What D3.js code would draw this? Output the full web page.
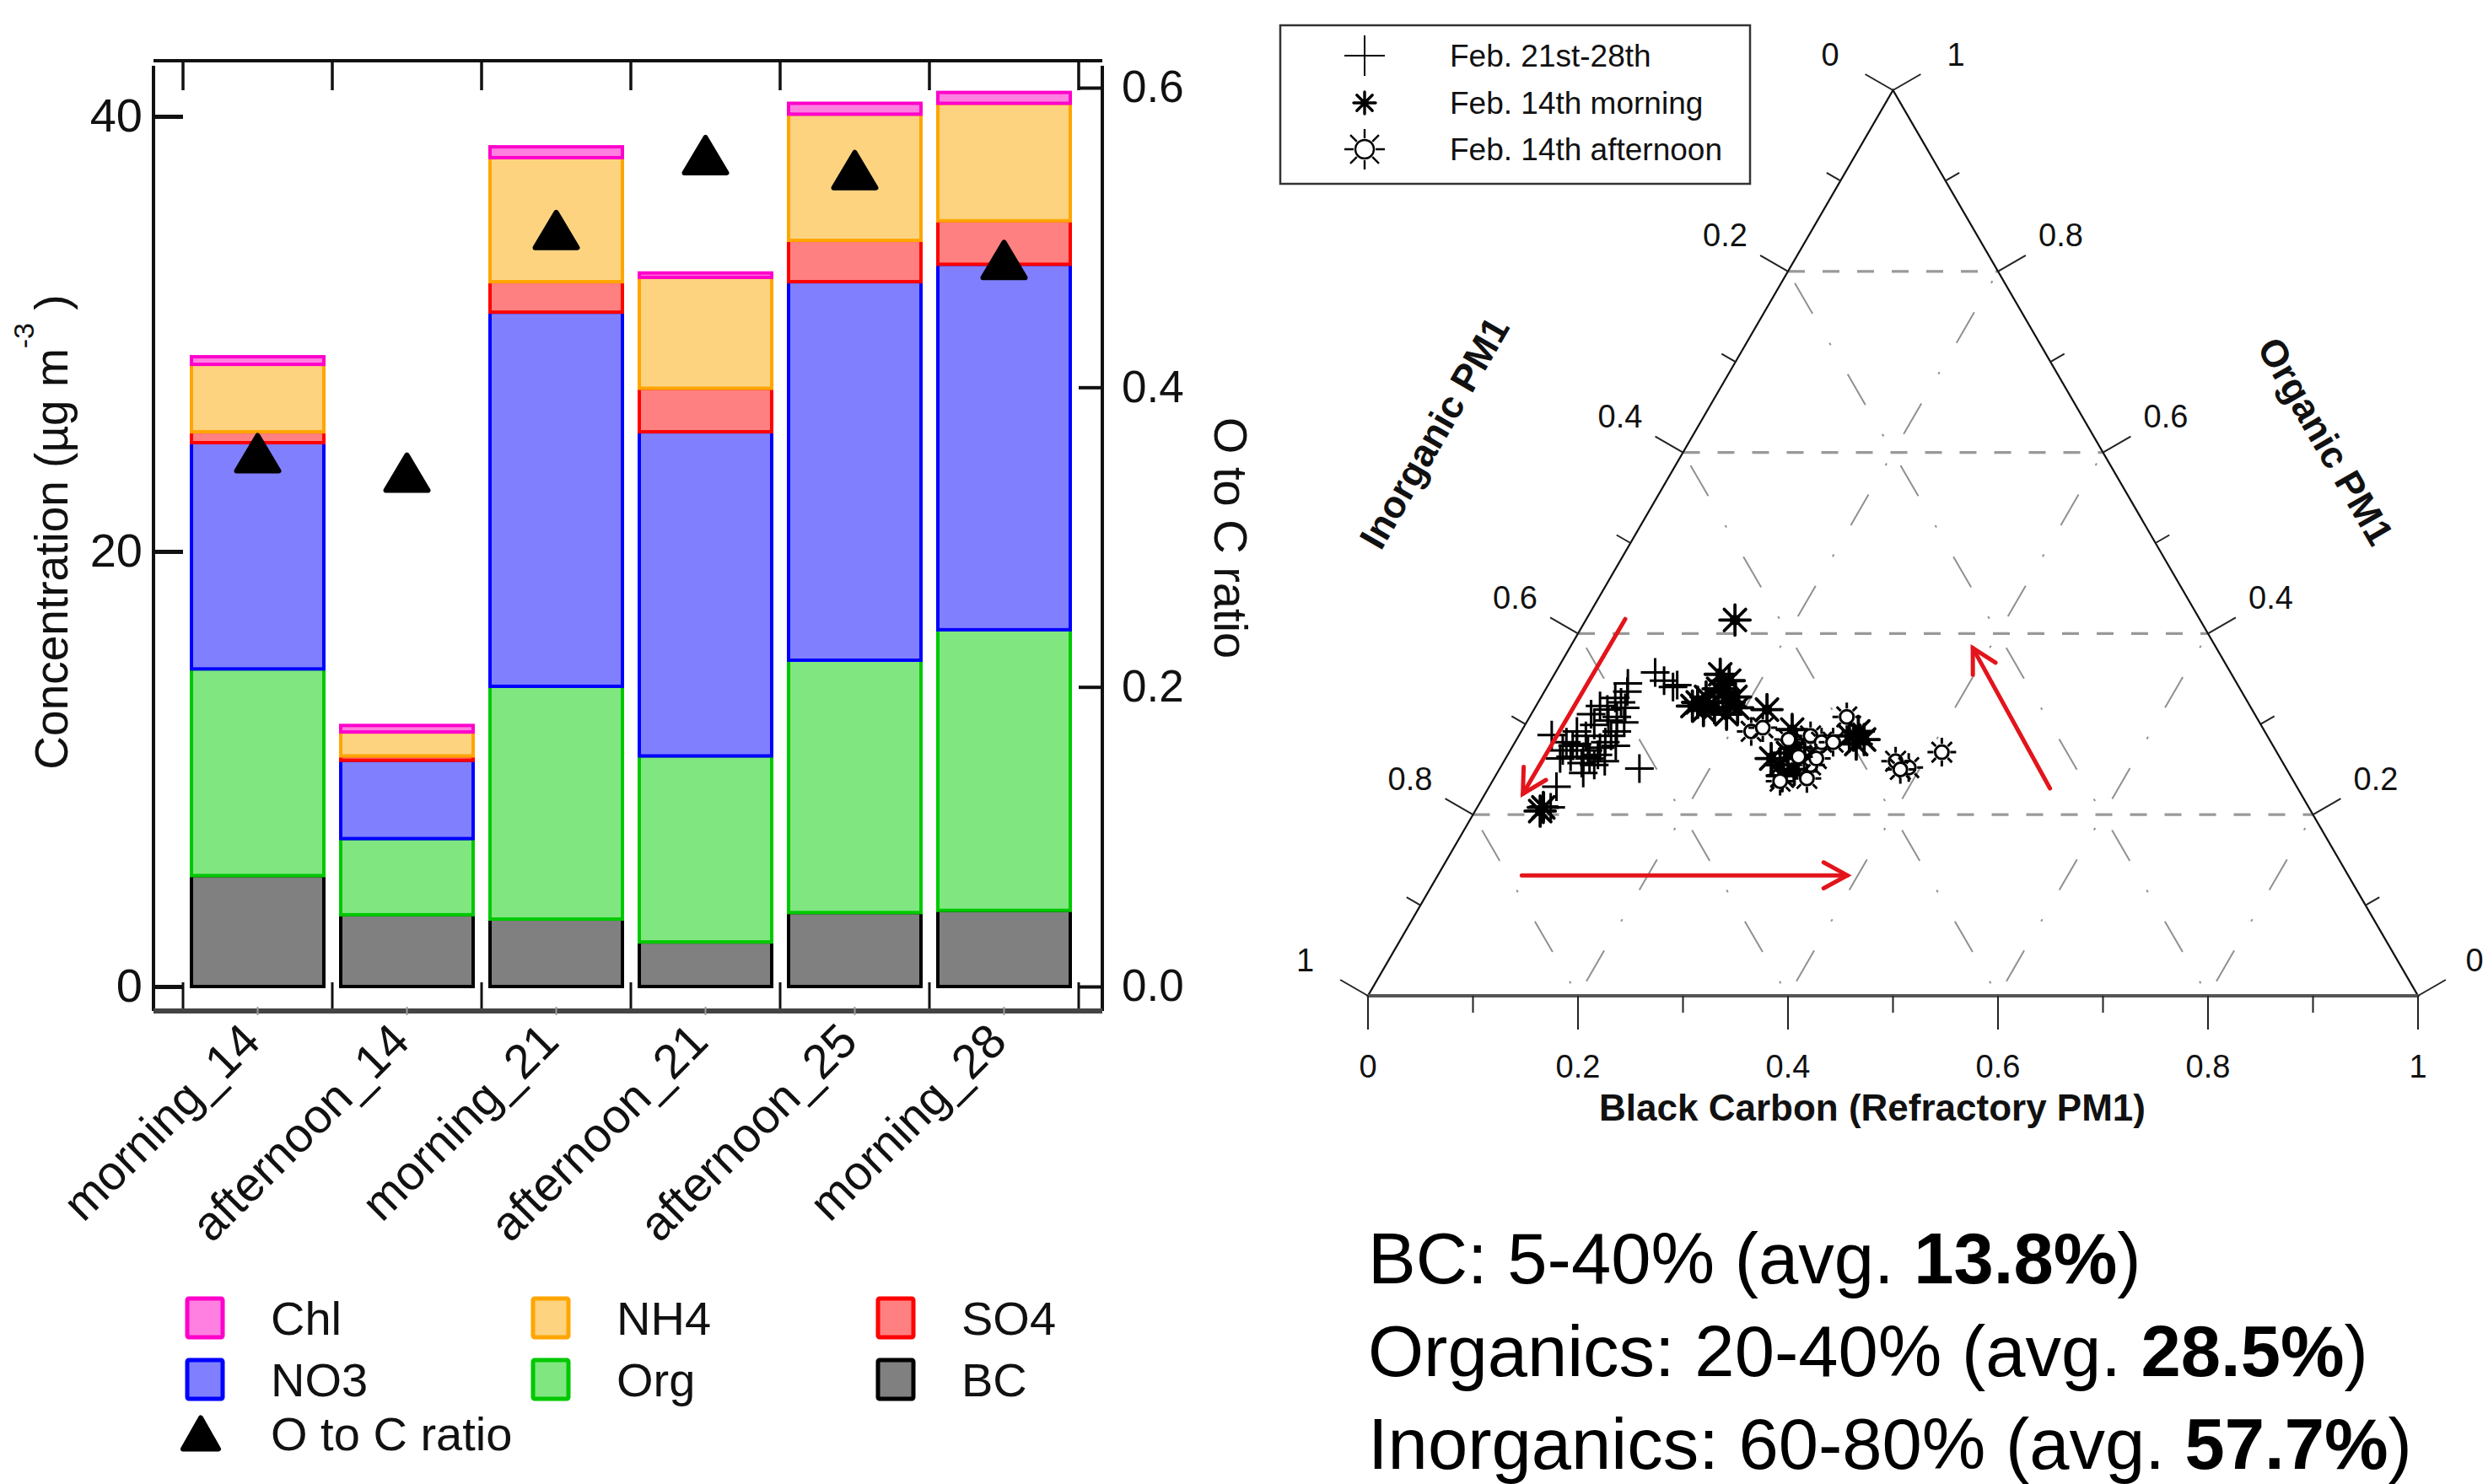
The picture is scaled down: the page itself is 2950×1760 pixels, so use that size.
<!DOCTYPE html>
<html><head><meta charset="utf-8">
<script src="https://cdn.jsdelivr.net/npm/d3@7"></script>
<style>body{margin:0;background:#fff}svg{display:block}text{font-family:"Liberation Sans",Arial,Helvetica,sans-serif}</style>
</head><body><svg id="c" width="2950" height="1760"></svg>
<script>
// ---------- DATA: left stacked bar chart ----------
const categories = ["morning_14","afternoon_14","morning_21","afternoon_21","afternoon_25","morning_28"];
const species = ["BC","Org","NO3","SO4","NH4","Chl"];
const bcValues  = [5.1, 3.3, 3.1, 2.05, 3.4, 3.5];
const orgValues = [9.5, 3.5, 10.7, 8.55, 11.6, 12.9];
const no3Values = [10.4, 3.6, 17.2, 14.9, 17.4, 16.8];
const so4Values = [0.5, 0.2, 1.4, 2.0, 1.9, 2.0];
const nh4Values = [3.1, 1.1, 5.7, 5.1, 5.8, 5.4];
const chlValues = [0.35, 0.3, 0.5, 0.2, 0.5, 0.5];
const ocRatio   = [0.356, 0.343, 0.505, 0.555, 0.545, 0.485];
const leftTicks  = [0, 20, 40];
const rightTicks = [0.0, 0.2, 0.4, 0.6];
const legendOrder = ["Chl","NH4","SO4","NO3","Org","BC"];

// ---------- DATA: ternary (fractions of BC and Organic; Inorganic = 1 - BC - Org) ----------
const crossBC  = [0.095,0.108,0.120,0.123,0.075,0.079,0.079,0.086,0.061,0.057,0.083,0.093,0.031,0.049,0.060,0.073,0.074,0.084,0.086,0.088,0.088,0.082,0.096,0.091,0.061,0.050,0.133,0.064,0.063,0.070,0.053,0.064,0.066,0.077,0.057,0.080,0.086,0.075,0.052,0.098,0.071,0.070];
const crossOrg = [0.357,0.348,0.341,0.343,0.345,0.336,0.324,0.318,0.320,0.311,0.308,0.302,0.288,0.280,0.278,0.264,0.271,0.274,0.280,0.287,0.255,0.246,0.259,0.292,0.264,0.271,0.251,0.231,0.209,0.208,0.292,0.287,0.299,0.304,0.276,0.262,0.266,0.257,0.262,0.276,0.329,0.316];
const starBC  = [0.142,0.152,0.157,0.171,0.170,0.170,0.182,0.185,0.186,0.162,0.149,0.164,0.193,0.158,0.222,0.257,0.253,0.265,0.266,0.273,0.271,0.285,0.281,0.315,0.321,0.331,0.326,0.063,0.062];
const starOrg = [0.415,0.324,0.330,0.318,0.336,0.348,0.324,0.330,0.311,0.315,0.320,0.339,0.318,0.355,0.316,0.294,0.262,0.255,0.268,0.243,0.274,0.262,0.250,0.287,0.292,0.283,0.278,0.208,0.204];
const sunBC  = [0.219,0.228,0.278,0.292,0.303,0.302,0.294,0.296,0.298,0.274,0.373,0.389,0.382,0.412,0.259,0.278];
const sunOrg = [0.292,0.296,0.287,0.280,0.280,0.308,0.255,0.262,0.240,0.237,0.259,0.252,0.250,0.269,0.283,0.264];
const ternTicks = [0, 0.2, 0.4, 0.6, 0.8, 1];
const ternMinor = [0.1, 0.3, 0.5, 0.7, 0.9];
const gridVals = [0.2, 0.4, 0.6, 0.8];
// annotation arrows: [startBC, startOrg, endBC, endOrg]
const arrows = [[0.037,0.416,0.036,0.223],[0.080,0.133,0.390,0.133],[0.535,0.229,0.384,0.384]];
const ternLegend = ["Feb. 21st-28th","Feb. 14th morning","Feb. 14th afternoon"];
const summary = [["BC: 5-40% (avg. ","13.8%",")"],["Organics: 20-40% (avg. ","28.5%",")"],["Inorganics: 60-80% (avg. ","57.7%",")"]];

const svg = d3.select("#c");

// ================= LEFT CHART =================
const yL = d3.scaleLinear().domain([0,40]).range([1170,138]);
const yR = d3.scaleLinear().domain([0,0.6]).range([1170,104]);
const xB = d3.scaleBand().domain(categories).range([217,1279]).paddingInner(0.113).paddingOuter(0.0565);
const fills   = {BC:"#808080",Org:"#80e680",NO3:"#8080ff",SO4:"#ff8080",NH4:"#fdd380",Chl:"#ff80e0"};
const strokes = {BC:"#000000",Org:"#00c800",NO3:"#0000ff",SO4:"#ff0000",NH4:"#ffa500",Chl:"#ff00cc"};
const rows = categories.map((c,i)=>({cat:c,BC:bcValues[i],Org:orgValues[i],NO3:no3Values[i],SO4:so4Values[i],NH4:nh4Values[i],Chl:chlValues[i]}));
const stacked = d3.stack().keys(species)(rows);

const xLeft = 182, xRight = 1307, yTop = 72, yBottom = 1199;

const bars = svg.append("g");
stacked.forEach(layer=>{
  bars.selectAll(null).data(layer).join("rect")
    .attr("x",d=>xB(d.data.cat)).attr("width",xB.bandwidth())
    .attr("y",d=>yL(d[1])).attr("height",d=>yL(d[0])-yL(d[1]))
    .attr("fill",fills[layer.key]).attr("stroke",strokes[layer.key]).attr("stroke-width",4);
});

// frame
const frame = svg.append("g").attr("stroke","#111").attr("stroke-width",4).attr("fill","none");
frame.append("line").attr("x1",xLeft).attr("x2",xRight).attr("y1",yTop).attr("y2",yTop);
frame.append("line").attr("x1",xLeft).attr("x2",xLeft).attr("y1",yTop+6).attr("y2",yBottom);
frame.append("line").attr("x1",xRight).attr("x2",xRight).attr("y1",yTop+6).attr("y2",yBottom);
svg.append("line").attr("x1",xLeft).attr("x2",xRight).attr("y1",yBottom).attr("y2",yBottom).attr("stroke","#444").attr("stroke-width",6);
const bounds = d3.range(categories.length+1).map(k=>xB(categories[0]) - xB.step()*xB.paddingInner()/2 + k*xB.step());
bounds.forEach(bx=>{
  frame.append("line").attr("x1",bx).attr("x2",bx).attr("y1",yTop).attr("y2",yTop+35).attr("stroke-width",3.5);
  frame.append("line").attr("x1",bx).attr("x2",bx).attr("y1",yBottom).attr("y2",yBottom-34).attr("stroke-width",3);
});
categories.forEach(c=>{
  const cx = xB(c)+xB.bandwidth()/2;
  svg.append("line").attr("x1",cx).attr("x2",cx).attr("y1",yBottom-5).attr("y2",yBottom+5).attr("stroke","#999").attr("stroke-width",2);
});

const axL = svg.append("g").attr("transform",`translate(${xLeft},0)`)
  .call(d3.axisLeft(yL).tickValues(leftTicks).tickSize(-35).tickPadding(13).tickSizeOuter(0));
axL.select(".domain").remove();
axL.selectAll("line").attr("stroke","#111").attr("stroke-width",5);
axL.selectAll("text").attr("font-size",56).attr("fill","#111").attr("font-family","Liberation Sans, Arial, sans-serif");

const axR = svg.append("g").attr("transform",`translate(${xRight},0)`)
  .call(d3.axisRight(yR).tickValues(rightTicks).tickSize(-28).tickPadding(23).tickSizeOuter(0).tickFormat(d3.format(".1f")));
axR.select(".domain").remove();
axR.selectAll("line").attr("stroke","#111").attr("stroke-width",4);
axR.selectAll("text").attr("font-size",53).attr("fill","#111").attr("font-family","Liberation Sans, Arial, sans-serif");

// category labels
svg.append("g").selectAll("text").data(categories).join("text")
  .attr("transform",d=>`translate(${xB(d)+xB.bandwidth()/2+6},1238) rotate(-45)`)
  .attr("text-anchor","end").attr("font-size",57).attr("fill","#111").text(d=>d);

// O to C triangles
const triPath = (w,h)=>`M0,${-h/2}L${w/2},${h/2}L${-w/2},${h/2}Z`;
svg.append("g").selectAll("path").data(ocRatio).join("path")
  .attr("transform",(d,i)=>`translate(${xB(categories[i])+xB.bandwidth()/2},${yR(d)})`)
  .attr("d",triPath(50,42)).attr("fill","#000").attr("stroke","#000").attr("stroke-width",6).attr("stroke-linejoin","round");

// axis titles
const tl = svg.append("text").attr("transform","translate(80,631) rotate(-90)").attr("text-anchor","middle").attr("font-size",55).attr("fill","#111");
tl.append("tspan").text("Concentration (µg m");
tl.append("tspan").attr("font-size",34).attr("dy",-40).text("-3");
tl.append("tspan").attr("dy",40).text(" )");
svg.append("text").attr("transform","translate(1440,638) rotate(90)").attr("text-anchor","middle").attr("font-size",56).attr("fill","#111").text("O to C ratio");

// legend (left)
const legCols = [219, 629, 1038], legRows = [1563, 1636];
legendOrder.forEach((k,i)=>{
  const lx = legCols[i%3], ly = legRows[Math.floor(i/3)];
  svg.append("rect").attr("x",lx+3).attr("y",ly-23).attr("width",42).attr("height",46)
    .attr("fill",fills[k]).attr("stroke",strokes[k]).attr("stroke-width",5).attr("rx",2);
  svg.append("text").attr("x",lx+102).attr("y",ly).attr("dy","0.36em").attr("font-size",56).attr("fill","#111").text(k);
});
svg.append("path").attr("transform","translate(238,1700)").attr("d",triPath(42,37))
  .attr("fill","#000").attr("stroke","#000").attr("stroke-width",6).attr("stroke-linejoin","round");
svg.append("text").attr("x",321).attr("y",1700).attr("dy","0.36em").attr("font-size",56).attr("fill","#111").text("O to C ratio");

// ================= TERNARY =================
const tX = d3.scaleLinear().domain([0,1]).range([1622,2867]);
const tY = d3.scaleLinear().domain([0,1]).range([1181,107]);
const P = (bc,org)=>[tX(bc+org/2), tY(org)];
const T = svg.append("g");

// grid
gridVals.forEach(v=>{
  const a = P(0,v), b = P(1-v,v);
  T.append("line").attr("x1",a[0]).attr("y1",a[1]).attr("x2",b[0]).attr("y2",b[1])
    .attr("stroke","#999").attr("stroke-width",3.2).attr("stroke-dasharray","20,21");
  const c1 = P(v,0), c2 = P(v,1-v);
  T.append("line").attr("x1",c1[0]).attr("y1",c1[1]).attr("x2",c2[0]).attr("y2",c2[1])
    .attr("stroke","#909090").attr("stroke-width",2).attr("stroke-dasharray","42,40,3,40").attr("stroke-dashoffset",-20);
  const d1 = P(1-v,0), d2 = P(0,1-v);
  T.append("line").attr("x1",d1[0]).attr("y1",d1[1]).attr("x2",d2[0]).attr("y2",d2[1])
    .attr("stroke","#909090").attr("stroke-width",2).attr("stroke-dasharray","42,40,3,40").attr("stroke-dashoffset",-60);
});

// sides
const V0 = P(0,0), V1 = P(1,0), V2 = P(0,1);
T.append("path").attr("d",`M${V0}L${V1}L${V2}Z`).attr("fill","none").attr("stroke","#111").attr("stroke-width",2.2);
T.append("line").attr("x1",V0[0]).attr("x2",V1[0]).attr("y1",V0[1]).attr("y2",V0[1]).attr("stroke","#555").attr("stroke-width",4);

// ticks & labels
const nL = [-0.866,-0.5], nR = [0.866,-0.5], nB = [0,1];
const fmt = d=> d===0?"0":d===1?"1":d3.format(".1f")(d);
function tick(p,n,len){T.append("line").attr("x1",p[0]).attr("y1",p[1]).attr("x2",p[0]+n[0]*len).attr("y2",p[1]+n[1]*len).attr("stroke","#222").attr("stroke-width",2);}
function lab(p,n,dist,t){
  const x = Math.min(p[0]+n[0]*dist, 2934);
  T.append("text").attr("x",x).attr("y",p[1]+n[1]*dist).attr("text-anchor","middle").attr("dy","0.36em").attr("font-size",38).attr("fill","#111").text(t);}
ternTicks.forEach(v=>{
  const pl = P(0,1-v); tick(pl,nL,38); lab(pl,nL,86,fmt(v));     // Inorganic (left)
  const pr = P(1-v,v); tick(pr,nR,38); lab(pr,nR,86,fmt(v));     // Organic (right)
  const pb = P(v,0); tick(pb,nB,40); lab(pb,nB,83,fmt(v));       // BC (bottom)
});
ternMinor.forEach(v=>{
  tick(P(0,1-v),nL,19); tick(P(1-v,v),nR,19); tick(P(v,0),nB,20);
});

// axis titles
T.append("text").attr("transform","translate(1700,513) rotate(-60)").attr("text-anchor","middle").attr("dy","0.36em")
  .attr("font-size",45).attr("font-weight","bold").attr("fill","#111").text("Inorganic PM1");
T.append("text").attr("transform","translate(2758,523) rotate(60)").attr("text-anchor","middle").attr("dy","0.36em")
  .attr("font-size",45).attr("font-weight","bold").attr("fill","#111").text("Organic PM1");
T.append("text").attr("x",2220).attr("y",1313).attr("text-anchor","middle").attr("dy","0.36em")
  .attr("font-size",44).attr("font-weight","bold").attr("fill","#111").text("Black Carbon (Refractory PM1)");

// markers
const crossD = s=>`M${-s},0H${s}M0,${-s}V${s}`;
const starD = r=>d3.range(4).map(k=>{const a=k*Math.PI/4, c=Math.cos(a)*r, s=Math.sin(a)*r; return `M${-c},${-s}L${c},${s}`;}).join("");
const rayD = (r1,r2)=>d3.range(8).map(k=>{const a=k*Math.PI/4; return `M${Math.cos(a)*r1},${Math.sin(a)*r1}L${Math.cos(a)*r2},${Math.sin(a)*r2}`;}).join("");
function drawCross(g,x,y,s,w){g.append("path").attr("transform",`translate(${x},${y})`).attr("d",crossD(s)).attr("stroke","#000").attr("stroke-width",w).attr("fill","none");}
function drawStar(g,x,y,r,w){const gg=g.append("g").attr("transform",`translate(${x},${y})`);
  gg.append("path").attr("d",starD(r)).attr("stroke","#000").attr("stroke-width",w).attr("stroke-linecap","round");
  gg.append("circle").attr("r",r*0.35).attr("fill","#000");}
function drawSun(g,x,y,rc,r1,r2,w){const gg=g.append("g").attr("transform",`translate(${x},${y})`);
  gg.append("path").attr("d",rayD(r1,r2)).attr("stroke","#000").attr("stroke-width",w);
  gg.append("circle").attr("r",rc).attr("fill","#fff").attr("stroke","#000").attr("stroke-width",w);}

const M = svg.append("g");
crossBC.forEach((b,i)=>{const p=P(b,crossOrg[i]); drawCross(M,p[0],p[1],17,3);});
starBC.forEach((b,i)=>{const p=P(b,starOrg[i]); drawStar(M,p[0],p[1],18,3.8);});
sunBC.forEach((b,i)=>{const p=P(b,sunOrg[i]); drawSun(M,p[0],p[1],8,10,17,3);});

// arrows
const A = svg.append("g").attr("stroke","#e3141b").attr("stroke-width",5).attr("fill","none").attr("stroke-linecap","round");
arrows.forEach(a=>{
  const s = P(a[0],a[1]), e = P(a[2],a[3]);
  A.append("line").attr("x1",s[0]).attr("y1",s[1]).attr("x2",e[0]).attr("y2",e[1]);
  const ang = Math.atan2(e[1]-s[1], e[0]-s[0]), L = 32, h = 0.5;
  const w1 = [e[0]-L*Math.cos(ang-h), e[1]-L*Math.sin(ang-h)], w2 = [e[0]-L*Math.cos(ang+h), e[1]-L*Math.sin(ang+h)];
  A.append("path").attr("d",`M${w1}L${e}L${w2}`).attr("stroke-linejoin","miter");
});

// ternary legend
svg.append("rect").attr("x",1518).attr("y",30).attr("width",557).attr("height",188).attr("fill","#fff").attr("stroke","#333").attr("stroke-width",2.5);
const lgY = [66,122,177];
drawCross(svg,1618,lgY[0],24,2);
drawStar(svg,1618,lgY[1],13,3.4);
drawSun(svg,1618,lgY[2],11,13,24,2.4);
ternLegend.forEach((t,i)=>svg.append("text").attr("x",1719).attr("y",lgY[i]).attr("dy","0.36em").attr("font-size",37).attr("fill","#111").text(t));

// summary text
const sumY = [1522,1632,1742];
summary.forEach((s,i)=>{
  const t = svg.append("text").attr("x",1622).attr("y",sumY[i]).attr("font-size",85).attr("fill","#000");
  t.append("tspan").text(s[0]);
  t.append("tspan").attr("font-weight","bold").text(s[1]);
  t.append("tspan").text(s[2]);
});
</script></body></html>
